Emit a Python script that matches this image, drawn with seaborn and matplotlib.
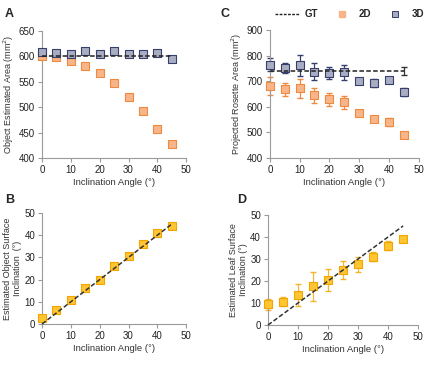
import numpy as np
import pandas as pd
import matplotlib
matplotlib.use("Agg")
import matplotlib.pyplot as plt
import seaborn as sns
from matplotlib.lines import Line2D

sns.set_style("white")
plt.rcParams['font.family'] = ['Liberation Sans', 'DejaVu Sans']

angles = [0, 5, 10, 15, 20, 25, 30, 35, 40, 45]

# Panel A
a_2d = [600, 598, 590, 582, 567, 548, 520, 492, 457, 428]
a_3d = [608, 606, 604, 610, 604, 610, 604, 605, 606, 595]
a_gt = 600

# Panel C
c_2d = [680, 668, 672, 645, 630, 617, 577, 552, 540, 490]
c_2d_err = [35, 25, 38, 30, 25, 25, 8, 8, 15, 8]
c_3d = [765, 752, 762, 738, 732, 735, 700, 692, 703, 657]
c_3d_err = [25, 20, 40, 35, 25, 30, 10, 15, 8, 15]
c_gt = 740
c_gt_err = 15

# Panel B
b_est = [2.5, 6.5, 11, 16, 20, 26, 30.5, 36, 41, 44]

# Panel D
d_est = [9.5, 10.5, 13.5, 17.5, 20.5, 25, 27.5, 31, 36, 39]
d_err = [2.5, 2, 5, 6.5, 5, 4, 3.5, 2, 2, 1]

ORANGE_F, ORANGE_E = "#F8B58A", "#EE8A40"
GREY_F, GREY_E = "#A9ADC2", "#37406C"
YEL_F, YEL_E = "#FFC533", "#F2A500"
AXC = "#9a9a9a"

fig = plt.figure(figsize=(4.29, 3.67), dpi=100)
axA = fig.add_axes([0.098, 0.5695, 0.336, 0.346])
axC = fig.add_axes([0.629, 0.5695, 0.347, 0.3485])
axB = fig.add_axes([0.098, 0.1172, 0.336, 0.3024])
axD = fig.add_axes([0.6247, 0.1144, 0.35, 0.300])

FS = 7
ms = 30

def style(ax, ylim, yticks, ylabel):
    ax.set_xlim(0, 50)
    ax.set_xticks([0, 10, 20, 30, 40, 50])
    ax.set_ylim(*ylim)
    ax.set_yticks(yticks)
    for s in ["top", "right"]:
        ax.spines[s].set_visible(False)
    for s in ["left", "bottom"]:
        ax.spines[s].set_color(AXC)
        ax.spines[s].set_linewidth(0.8)
    ax.tick_params(axis="both", labelsize=FS, length=3, width=0.8, color=AXC,
                   direction="out", pad=2, bottom=True, left=True, labelcolor="#222222")
    ax.set_xlabel("Inclination Angle (°)", fontsize=6.8, labelpad=2, color="#333333")
    ax.set_ylabel(ylabel, fontsize=6.5, labelpad=2, color="#333333", linespacing=1.05)
    for c in ax.collections:
        c.set_clip_on(False)
    for l in ax.lines:
        l.set_clip_on(False)

# Panel A
dfA = pd.DataFrame({"angle": angles, "d2": a_2d, "d3": a_3d, "gt": [a_gt] * len(angles)})
sns.lineplot(data=dfA, x="angle", y="gt", ax=axA, color="#222222", linestyle=(0, (3, 1.5)), lw=1.1, zorder=4)
sns.scatterplot(data=dfA, x="angle", y="d2", ax=axA, marker="s", s=ms, color=ORANGE_F, edgecolor=ORANGE_E, linewidth=0.8, zorder=3)
sns.scatterplot(data=dfA, x="angle", y="d3", ax=axA, marker="s", s=ms, color=GREY_F, edgecolor=GREY_E, linewidth=0.8, zorder=3)
style(axA, (400, 650), [400, 450, 500, 550, 600, 650], "Object Estimated Area (mm$^2$)")

# Panel C
dfC = pd.DataFrame({"angle": angles, "d2": c_2d, "d3": c_3d, "gt": [c_gt] * len(angles)})
axC.errorbar(angles, c_2d, yerr=c_2d_err, fmt="none", ecolor=ORANGE_E, elinewidth=0.9, capsize=2, zorder=2)
axC.errorbar(angles, c_3d, yerr=c_3d_err, fmt="none", ecolor=GREY_E, elinewidth=0.9, capsize=2, zorder=2)
axC.errorbar([angles[-1]], [c_gt], yerr=[c_gt_err], fmt="none", ecolor="#333333", elinewidth=0.9, capsize=2, zorder=2)
sns.lineplot(data=dfC, x="angle", y="gt", ax=axC, color="#222222", linestyle=(0, (3, 1.5)), lw=1.1, zorder=4)
sns.scatterplot(data=dfC, x="angle", y="d2", ax=axC, marker="s", s=ms, color=ORANGE_F, edgecolor=ORANGE_E, linewidth=0.8, zorder=3)
sns.scatterplot(data=dfC, x="angle", y="d3", ax=axC, marker="s", s=ms, color=GREY_F, edgecolor=GREY_E, linewidth=0.8, zorder=3)
style(axC, (400, 900), [400, 500, 600, 700, 800, 900], "Projected Rosette Area (mm$^2$)")

# Panel B
dfB = pd.DataFrame({"angle": angles, "est": b_est})
sns.lineplot(x=[0, 45], y=[0, 45], ax=axB, color="#333333", linestyle=(0, (3, 1.5)), lw=1.1, zorder=4)
sns.scatterplot(data=dfB, x="angle", y="est", ax=axB, marker="s", s=ms, color=YEL_F, edgecolor=YEL_E, linewidth=0.8, zorder=3)
style(axB, (0, 50), [0, 10, 20, 30, 40, 50], "Estimated Object Surface\nInclination  (°)")

# Panel D
dfD = pd.DataFrame({"angle": angles, "est": d_est})
axD.errorbar(angles, d_est, yerr=d_err, fmt="none", ecolor=YEL_E, elinewidth=0.9, capsize=2, zorder=2, alpha=0.8)
sns.lineplot(x=[0, 45], y=[0, 45], ax=axD, color="#333333", linestyle=(0, (3, 1.5)), lw=1.1, zorder=4)
sns.scatterplot(data=dfD, x="angle", y="est", ax=axD, marker="s", s=ms, color=YEL_F, edgecolor=YEL_E, linewidth=0.8, zorder=3)
style(axD, (0, 50), [0, 10, 20, 30, 40, 50], "Estimated Leaf Surface\nInclination (°)")

# Panel letters
for txt, x, y in [("A", 0.012, 0.962), ("C", 0.515, 0.962), ("B", 0.012, 0.455), ("D", 0.553, 0.455)]:
    fig.text(x, y, txt, fontsize=9, fontweight="bold", ha="left", va="center")

# Legend
handles = [
    Line2D([0], [0], color="#222222", linestyle=(0, (2, 1)), lw=1.0),
    Line2D([0], [0], marker="s", linestyle="none", markersize=4.5, markerfacecolor=ORANGE_F, markeredgecolor=ORANGE_F),
    Line2D([0], [0], marker="s", linestyle="none", markersize=4.5, markerfacecolor=GREY_F, markeredgecolor=GREY_E, markeredgewidth=0.7),
]
fig.legend(handles, ["GT", "2D", "3D"], loc="center", bbox_to_anchor=(0.815, 0.962), ncol=3,
           frameon=False, prop={"size": 7, "weight": "bold"}, handlelength=2.6,
           columnspacing=1.2, handletextpad=0.4)

fig.savefig("out.png", dpi=100)
